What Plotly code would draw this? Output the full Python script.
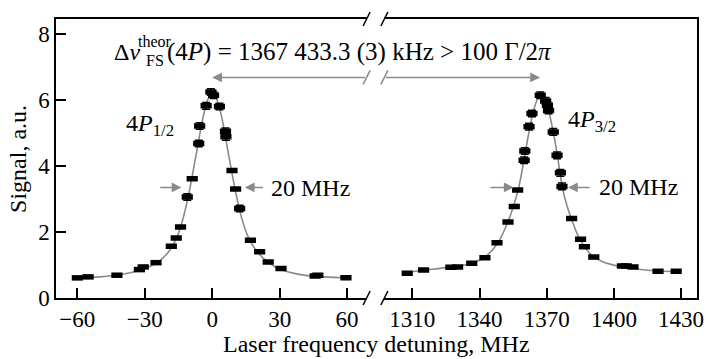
import plotly.graph_objects as go

# ---- data: 4P1/2 resonance (left panel) ----
L_X = [-60, -55.2, -42.4, -32.4, -30.7, -25.0, -18.2, -16.0, -14.1, -11.1, -8.9, -6.0, -5.6,
       -2.7, -0.6, 0.6, 3.2, 5.9, 6.1, 8.8, 10.4, 12.2, 17.0, 21.1, 24.9, 30.6, 45.8, 47.0, 59.5]
L_Y = [0.61, 0.64, 0.69, 0.86, 0.94, 1.07, 1.57, 1.82, 2.15, 3.06, 3.61, 4.68, 5.21,
       5.82, 6.24, 6.14, 5.80, 5.05, 4.88, 3.86, 3.30, 2.71, 1.75, 1.40, 1.09, 0.89, 0.67, 0.69, 0.61]
L_ERR = [0.03, 0.03, 0.03, 0.03, 0.03, 0.03, 0.03, 0.03, 0.03, 0.10, 0.03, 0.10, 0.10,
         0.10, 0.10, 0.10, 0.10, 0.10, 0.10, 0.03, 0.03, 0.10, 0.03, 0.03, 0.03, 0.03, 0.03, 0.03, 0.03]

# fit curve (left)
FL_X = [-60, -50, -40, -32, -25, -20, -16, -13, -10, -7, -4, -2, 0, 2, 4, 7, 10, 13, 16, 20, 25, 30, 40, 50, 60]
FL_Y = [0.60, 0.64, 0.72, 0.85, 1.05, 1.35, 1.80, 2.40, 3.30, 4.40, 5.50, 6.00, 6.22, 6.02, 5.55,
        4.45, 3.35, 2.45, 1.85, 1.40, 1.08, 0.88, 0.70, 0.64, 0.61]

# ---- data: 4P3/2 resonance (right panel) ----
R_X = [1307.7, 1315.0, 1327.2, 1330.2, 1336.5, 1342.4, 1347.8, 1352.7, 1355.5, 1357.0, 1359.9,
       1360.2, 1362.1, 1363.4, 1367.1, 1369.5, 1370.3, 1370.8, 1372.9, 1374.6, 1376.1, 1376.8,
       1381.1, 1385.1, 1386.8, 1391.0, 1403.8, 1405.5, 1408.5, 1419.7, 1427.8]
R_Y = [0.75, 0.85, 0.93, 0.94, 1.05, 1.22, 1.67, 2.30, 2.77, 3.27, 4.17,
       4.45, 5.19, 5.59, 6.14, 5.97, 5.84, 5.68, 5.03, 4.32, 3.79, 3.38,
       2.41, 1.78, 1.55, 1.24, 0.97, 0.97, 0.94, 0.81, 0.81]
R_ERR = [0.03, 0.03, 0.03, 0.03, 0.03, 0.03, 0.03, 0.03, 0.03, 0.03, 0.10,
         0.10, 0.10, 0.10, 0.10, 0.10, 0.10, 0.10, 0.10, 0.10, 0.10, 0.10,
         0.03, 0.03, 0.03, 0.03, 0.03, 0.03, 0.03, 0.03, 0.03]

FR_X = [1307, 1315, 1325, 1335, 1342, 1348, 1352, 1355, 1357.5, 1360, 1362, 1364, 1366, 1367,
        1368.5, 1370.5, 1373, 1375, 1377, 1379, 1381, 1385, 1390, 1395, 1403, 1410, 1420, 1428]
FR_Y = [0.77, 0.84, 0.92, 1.03, 1.22, 1.65, 2.20, 2.75, 3.35, 4.25, 5.00, 5.65, 6.05, 6.15,
        6.05, 5.75, 5.00, 4.20, 3.35, 2.80, 2.40, 1.75, 1.30, 1.10, 0.95, 0.88, 0.82, 0.80]

L_TICKS = [-60, -30, 0, 30, 60]
R_TICKS = [1310, 1340, 1370, 1400, 1430]
Y_TICKS = [0, 2, 4, 6, 8]
FS_CENTER = [0, 1367]          # line centres joined by the big arrow
HALF_LEVEL = 3.35              # level of the 20 MHz width arrows
WIDTH_ARROWS_L = [(-23.8, -13.7), (23.3, 14.5)]     # (tail, tip)
WIDTH_ARROWS_R = [(1344.2, 1355.2), (1389.8, 1379.5)]
ARROW_Y = 6.68

FONT = "Liberation Serif"
GRAY = "#8a8a8a"
L_RANGE = [-69.5, 68.7]
R_RANGE = [1297.5, 1437.1]
L_DOM = [0, 0.4846]
R_DOM = [0.5123, 1]

fig = go.Figure()

for fx, fy, xa, ya in [(FL_X, FL_Y, "x", "y"), (FR_X, FR_Y, "x2", "y2")]:
    fig.add_trace(go.Scatter(x=fx, y=fy, mode="lines", line=dict(color=GRAY, width=1.6, shape="spline"),
                             xaxis=xa, yaxis=ya, showlegend=False, hoverinfo="skip"))

for dx, dy, de, xa, ya in [(L_X, L_Y, L_ERR, "x", "y"), (R_X, R_Y, R_ERR, "x2", "y2")]:
    fig.add_trace(go.Scatter(
        x=dx, y=dy, mode="markers", xaxis=xa, yaxis=ya, showlegend=False,
        marker=dict(symbol="line-ew", size=8, color="black", line=dict(width=5.5, color="black")),
        error_y=dict(type="data", array=de, visible=True, color="black", thickness=1.5, width=4)))

axis_common = dict(showgrid=False, zeroline=False, showline=True, linecolor="black", linewidth=1.5,
                   ticks="inside", ticklen=10, tickwidth=1.5, tickcolor="black",
                   tickfont=dict(family=FONT, size=23, color="black"))

fig.update_layout(
    width=712, height=359, margin=dict(l=56, r=8, t=19, b=61),
    paper_bgcolor="white", plot_bgcolor="white",
    xaxis=dict(domain=L_DOM, range=L_RANGE, tickvals=L_TICKS, anchor="y", mirror=True, **axis_common),
    xaxis2=dict(domain=R_DOM, range=R_RANGE, tickvals=R_TICKS, anchor="y2", mirror=True, **axis_common),
    yaxis=dict(range=[0, 8.45], tickvals=Y_TICKS, anchor="x", **axis_common),
    yaxis2=dict(matches="y", range=[0, 8.45], anchor="x2", side="right", showgrid=False, zeroline=False,
                showline=True, linecolor="black", linewidth=1.5, ticks="", showticklabels=False),
)

# break marks
shapes = []
for xc in [L_DOM[1], R_DOM[0]]:
    for yref, yanc, col in [("paper", 0, "black"), ("paper", 1, "black"), ("y", ARROW_Y, GRAY)]:
        shapes.append(dict(type="line", xref="paper", xsizemode="pixel", xanchor=xc, x0=-3.5, x1=3.5,
                           yref=yref, ysizemode="pixel", yanchor=yanc, y0=-7, y1=7,
                           line=dict(color=col, width=1.5)))
fig.update_layout(shapes=shapes)

ann = []
# big double arrow (split across the break)
ann.append(dict(x=FS_CENTER[0], y=ARROW_Y, xref="x", yref="y", ax=L_RANGE[1], ay=ARROW_Y, axref="x", ayref="y",
                text="", showarrow=True, arrowhead=2, arrowsize=1.3, arrowwidth=1.5, arrowcolor=GRAY))
ann.append(dict(x=FS_CENTER[1], y=ARROW_Y, xref="x2", yref="y2", ax=R_RANGE[0], ay=ARROW_Y, axref="x2", ayref="y2",
                text="", showarrow=True, arrowhead=2, arrowsize=1.3, arrowwidth=1.5, arrowcolor=GRAY))
for tail, tip in WIDTH_ARROWS_L:
    ann.append(dict(x=tip, y=HALF_LEVEL, xref="x", yref="y", ax=tail, ay=HALF_LEVEL, axref="x", ayref="y",
                    text="", showarrow=True, arrowhead=2, arrowsize=1.3, arrowwidth=1.5, arrowcolor=GRAY))
for tail, tip in WIDTH_ARROWS_R:
    ann.append(dict(x=tip, y=HALF_LEVEL, xref="x2", yref="y2", ax=tail, ay=HALF_LEVEL, axref="x2", ayref="y2",
                    text="", showarrow=True, arrowhead=2, arrowsize=1.3, arrowwidth=1.5, arrowcolor=GRAY))

def txt(text, x, y, size=24, xanchor="left", **kw):
    return dict(text=text, x=x, y=y, xref="paper", yref="paper", showarrow=False, xanchor=xanchor,
                yanchor="middle", font=dict(family=FONT, size=size, color="black"), **kw)

# formula line
ann.append(txt("Δ<i>ν</i>", (113 - 56) / 648, (297.7 - 52) / 278.7))
ann.append(txt("theor", (137 - 56) / 648, (297.7 - 41) / 278.7, size=16))
ann.append(txt("FS", (145 - 56) / 648, (297.7 - 60) / 278.7, size=16))
ann.append(txt("(4<i>P</i>) = 1367 433.3 (3) kHz > 100 Γ/2<i>π</i>", (166 - 56) / 648, (297.7 - 52) / 278.7,
               size=25))
ann.append(txt("4<i>P</i><sub>1/2</sub>", (125 - 56) / 648, (297.7 - 125) / 278.7))
ann.append(txt("4<i>P</i><sub>3/2</sub>", (572 - 56) / 648, (297.7 - 121) / 278.7))
ann.append(txt("20 MHz", (271 - 56) / 648, (297.7 - 188.3) / 278.7))
ann.append(txt("20 MHz", (603 - 56) / 648, (297.7 - 186.7) / 278.7))
ann.append(txt("Laser frequency detuning, MHz", 0.5, (297.7 - 344) / 278.7, xanchor="center"))
ann.append(txt("Signal, a.u.", (17 - 56) / 648, 0.5, xanchor="center", textangle=-90))
fig.update_layout(annotations=ann)

fig.write_html("out.html")
